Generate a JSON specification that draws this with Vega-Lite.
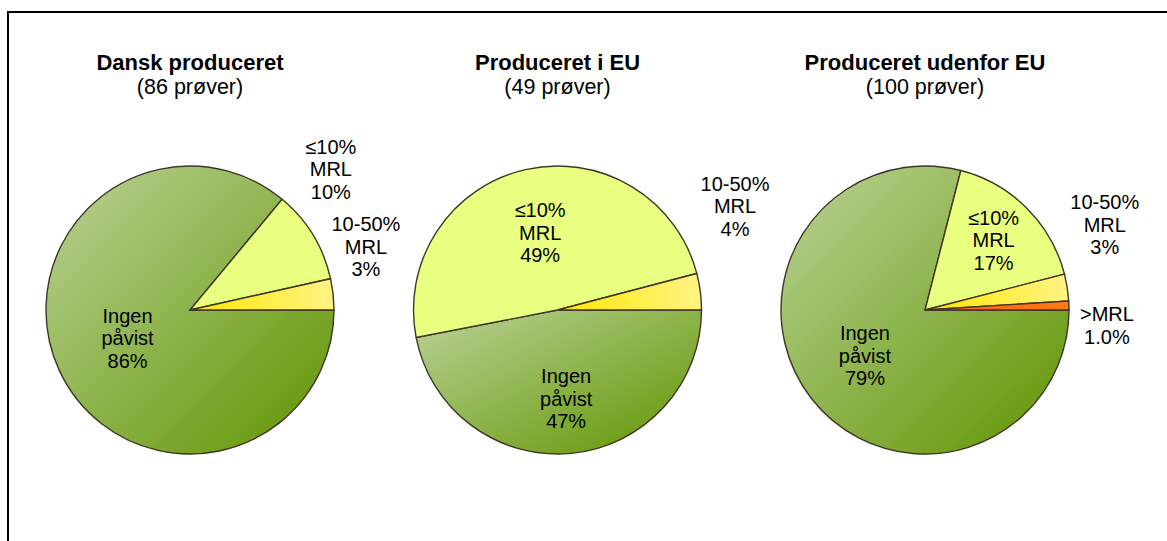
{
  "$schema": "https://vega.github.io/schema/vega-lite/v6.json",
  "autosize": "none",
  "width": 1180,
  "height": 596,
  "padding": {"left": 8, "top": 12, "right": 0, "bottom": 0},
  "background": "white",
  "config": {"view": {"stroke": "black", "strokeWidth": 2}, "text": {"font": "Liberation Sans"}},
  "datasets": {
    "slices": [
      {"pie": "Dansk produceret", "cat": "Ingen påvist", "k": 1, "n": 74, "lab": ["Ingen", "påvist", "86%"]},
      {"pie": "Dansk produceret", "cat": "≤10% MRL", "k": 2, "n": 9, "lab": ["≤10%", "MRL", "10%"]},
      {"pie": "Dansk produceret", "cat": "10-50% MRL", "k": 3, "n": 3, "lab": ["10-50%", "MRL", "3%"]},
      {"pie": "Produceret i EU", "cat": "Ingen påvist", "k": 1, "n": 23, "lab": ["Ingen", "påvist", "47%"]},
      {"pie": "Produceret i EU", "cat": "≤10% MRL", "k": 2, "n": 24, "lab": ["≤10%", "MRL", "49%"]},
      {"pie": "Produceret i EU", "cat": "10-50% MRL", "k": 3, "n": 2, "lab": ["10-50%", "MRL", "4%"]},
      {"pie": "Produceret udenfor EU", "cat": "Ingen påvist", "k": 1, "n": 79, "lab": ["Ingen", "påvist", "79%"]},
      {"pie": "Produceret udenfor EU", "cat": "≤10% MRL", "k": 2, "n": 17, "lab": ["≤10%", "MRL", "17%"]},
      {"pie": "Produceret udenfor EU", "cat": "10-50% MRL", "k": 3, "n": 3, "lab": ["10-50%", "MRL", "3%"]},
      {"pie": "Produceret udenfor EU", "cat": ">MRL", "k": 4, "n": 1, "lab": [">MRL", "1.0%"]}
    ],
    "titles": [
      {"pie": "Dansk produceret", "sub": "(86 prøver)"},
      {"pie": "Produceret i EU", "sub": "(49 prøver)"},
      {"pie": "Produceret udenfor EU", "sub": "(100 prøver)"}
    ]
  },
  "data": {"name": "slices"},
  "layer": [
    {
      "transform": [
        {"stack": "n", "groupby": ["pie"], "sort": [{"field": "k", "order": "ascending"}], "offset": "normalize", "as": ["v0", "v1"]},
        {"filter": "datum.k == 1"}
      ],
      "mark": {"type": "arc", "radius": 144, "stroke": "#3f3626", "strokeWidth": 1.4,
        "fill": {"gradient": "linear", "x1": 0, "y1": 0, "x2": 1, "y2": 1, "stops": [{"offset": 0, "color": "#bad397"}, {"offset": 1, "color": "#609400"}]}},
      "encoding": {
        "x": {"field": "pie", "type": "nominal", "axis": null, "scale": {"type": "point", "padding": 0, "domain": ["Dansk produceret", "Produceret i EU", "Produceret udenfor EU"], "range": [182, 917]}},
        "theta": {"field": "v0", "type": "quantitative", "scale": {"domain": [0, 1], "range": [1.5708, 7.854]}},
        "theta2": {"field": "v1"}
      }
    },
    {
      "transform": [
        {"stack": "n", "groupby": ["pie"], "sort": [{"field": "k", "order": "ascending"}], "offset": "normalize", "as": ["v0", "v1"]},
        {"filter": "datum.k == 2"}
      ],
      "mark": {"type": "arc", "radius": 144, "stroke": "#3f3626", "strokeWidth": 1.4, "fill": "#e9ff7f"},
      "encoding": {
        "x": {"field": "pie", "type": "nominal", "axis": null},
        "theta": {"field": "v0", "type": "quantitative"},
        "theta2": {"field": "v1"}
      }
    },
    {
      "transform": [
        {"stack": "n", "groupby": ["pie"], "sort": [{"field": "k", "order": "ascending"}], "offset": "normalize", "as": ["v0", "v1"]},
        {"filter": "datum.k == 3"}
      ],
      "mark": {"type": "arc", "radius": 144, "stroke": "#3f3626", "strokeWidth": 1.4,
        "fill": {"gradient": "linear", "x1": 0, "y1": 0.5, "x2": 1, "y2": 0.5, "stops": [{"offset": 0, "color": "#ffe800"}, {"offset": 1, "color": "#fff385"}]}},
      "encoding": {
        "x": {"field": "pie", "type": "nominal", "axis": null},
        "theta": {"field": "v0", "type": "quantitative"},
        "theta2": {"field": "v1"}
      }
    },
    {
      "transform": [
        {"stack": "n", "groupby": ["pie"], "sort": [{"field": "k", "order": "ascending"}], "offset": "normalize", "as": ["v0", "v1"]},
        {"filter": "datum.k == 4"}
      ],
      "mark": {"type": "arc", "radius": 144, "stroke": "#3f3626", "strokeWidth": 1.4,
        "fill": {"gradient": "linear", "x1": 0, "y1": 0.5, "x2": 1, "y2": 0.5, "stops": [{"offset": 0, "color": "#ff5a00"}, {"offset": 1, "color": "#ff7a1a"}]}},
      "encoding": {
        "x": {"field": "pie", "type": "nominal", "axis": null},
        "theta": {"field": "v0", "type": "quantitative"},
        "theta2": {"field": "v1"}
      }
    },
    {
      "transform": [{"filter": "datum.pie == 'Dansk produceret'"}],
      "mark": {"type": "text", "radius": 69, "dy": -22.5, "fontSize": 20, "lineHeight": 22.5, "baseline": "middle", "align": "center", "color": "black"},
      "encoding": {
        "x": {"field": "pie", "type": "nominal", "axis": null},
        "theta": {"field": "n", "type": "quantitative", "stack": "normalize"},
        "order": {"field": "k"},
        "text": {"condition": {"test": "datum.k == 1", "field": "lab", "type": "nominal"}, "value": ""}
      }
    },
    {
      "transform": [{"filter": "datum.pie == 'Dansk produceret'"}],
      "mark": {"type": "text", "radius": 165, "dy": -76.5, "fontSize": 20, "lineHeight": 22.5, "baseline": "middle", "align": "center", "color": "black"},
      "encoding": {
        "x": {"field": "pie", "type": "nominal", "axis": null},
        "theta": {"field": "n", "type": "quantitative", "stack": "normalize"},
        "order": {"field": "k"},
        "text": {"condition": {"test": "datum.k == 2", "field": "lab", "type": "nominal"}, "value": ""}
      }
    },
    {
      "transform": [{"filter": "datum.pie == 'Dansk produceret'"}],
      "mark": {"type": "text", "radius": 177, "dy": -65.5, "fontSize": 20, "lineHeight": 22.5, "baseline": "middle", "align": "center", "color": "black"},
      "encoding": {
        "x": {"field": "pie", "type": "nominal", "axis": null},
        "theta": {"field": "n", "type": "quantitative", "stack": "normalize"},
        "order": {"field": "k"},
        "text": {"condition": {"test": "datum.k == 3", "field": "lab", "type": "nominal"}, "value": ""}
      }
    },
    {
      "transform": [{"filter": "datum.pie == 'Produceret i EU'"}],
      "mark": {"type": "text", "radius": 78, "dy": -22.5, "fontSize": 20, "lineHeight": 22.5, "baseline": "middle", "align": "center", "color": "black"},
      "encoding": {
        "x": {"field": "pie", "type": "nominal", "axis": null},
        "theta": {"field": "n", "type": "quantitative", "stack": "normalize"},
        "order": {"field": "k"},
        "text": {"condition": {"test": "datum.k == 2", "field": "lab", "type": "nominal"}, "value": ""}
      }
    },
    {
      "transform": [{"filter": "datum.pie == 'Produceret i EU'"}],
      "mark": {"type": "text", "radius": 90, "dy": -22.5, "fontSize": 20, "lineHeight": 22.5, "baseline": "middle", "align": "center", "color": "black"},
      "encoding": {
        "x": {"field": "pie", "type": "nominal", "axis": null},
        "theta": {"field": "n", "type": "quantitative", "stack": "normalize"},
        "order": {"field": "k"},
        "text": {"condition": {"test": "datum.k == 1", "field": "lab", "type": "nominal"}, "value": ""}
      }
    },
    {
      "transform": [{"filter": "datum.pie == 'Produceret i EU'"}],
      "mark": {"type": "text", "radius": 179, "dy": -102.5, "fontSize": 20, "lineHeight": 22.5, "baseline": "middle", "align": "center", "color": "black"},
      "encoding": {
        "x": {"field": "pie", "type": "nominal", "axis": null},
        "theta": {"field": "n", "type": "quantitative", "stack": "normalize"},
        "order": {"field": "k"},
        "text": {"condition": {"test": "datum.k == 3", "field": "lab", "type": "nominal"}, "value": ""}
      }
    },
    {
      "transform": [{"filter": "datum.pie == 'Produceret udenfor EU'"}],
      "mark": {"type": "text", "radius": 76, "dy": -22.5, "fontSize": 20, "lineHeight": 22.5, "baseline": "middle", "align": "center", "color": "black"},
      "encoding": {
        "x": {"field": "pie", "type": "nominal", "axis": null},
        "theta": {"field": "n", "type": "quantitative", "stack": "normalize"},
        "order": {"field": "k"},
        "text": {"condition": {"test": "datum.k == 1", "field": "lab", "type": "nominal"}, "value": ""}
      }
    },
    {
      "transform": [{"filter": "datum.pie == 'Produceret udenfor EU'"}],
      "mark": {"type": "text", "radius": 97, "dy": -22.5, "fontSize": 20, "lineHeight": 22.5, "baseline": "middle", "align": "center", "color": "black"},
      "encoding": {
        "x": {"field": "pie", "type": "nominal", "axis": null},
        "theta": {"field": "n", "type": "quantitative", "stack": "normalize"},
        "order": {"field": "k"},
        "text": {"condition": {"test": "datum.k == 2", "field": "lab", "type": "nominal"}, "value": ""}
      }
    },
    {
      "transform": [{"filter": "datum.pie == 'Produceret udenfor EU'"}],
      "mark": {"type": "text", "radius": 182, "dy": -78.5, "fontSize": 20, "lineHeight": 22.5, "baseline": "middle", "align": "center", "color": "black"},
      "encoding": {
        "x": {"field": "pie", "type": "nominal", "axis": null},
        "theta": {"field": "n", "type": "quantitative", "stack": "normalize"},
        "order": {"field": "k"},
        "text": {"condition": {"test": "datum.k == 3", "field": "lab", "type": "nominal"}, "value": ""}
      }
    },
    {
      "transform": [{"filter": "datum.pie == 'Produceret udenfor EU'"}],
      "mark": {"type": "text", "radius": 182, "dy": 10.75, "fontSize": 20, "lineHeight": 22.5, "baseline": "middle", "align": "center", "color": "black"},
      "encoding": {
        "x": {"field": "pie", "type": "nominal", "axis": null},
        "theta": {"field": "n", "type": "quantitative", "stack": "normalize"},
        "order": {"field": "k"},
        "text": {"condition": {"test": "datum.k == 4", "field": "lab", "type": "nominal"}, "value": ""}
      }
    },
    {
      "data": {"name": "titles"},
      "mark": {"type": "text", "dy": -240, "fontSize": 22, "fontWeight": "bold", "baseline": "alphabetic", "align": "center", "color": "black"},
      "encoding": {
        "x": {"field": "pie", "type": "nominal", "axis": null},
        "text": {"field": "pie", "type": "nominal"}
      }
    },
    {
      "data": {"name": "titles"},
      "mark": {"type": "text", "dy": -216, "fontSize": 21.5, "baseline": "alphabetic", "align": "center", "color": "black"},
      "encoding": {
        "x": {"field": "pie", "type": "nominal", "axis": null},
        "text": {"field": "sub", "type": "nominal"}
      }
    }
  ]
}
